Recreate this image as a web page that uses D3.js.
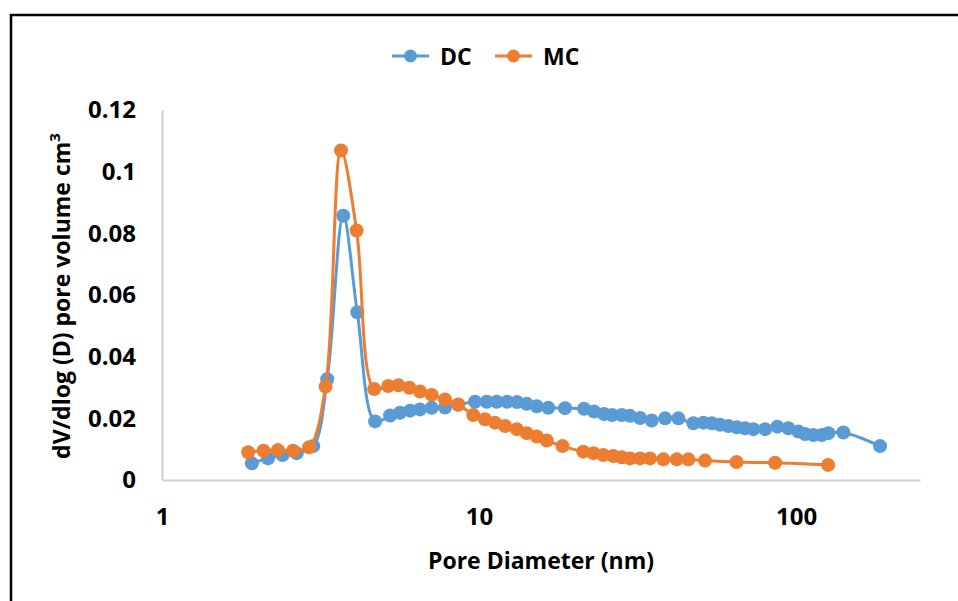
<!DOCTYPE html>
<html>
<head>
<meta charset="utf-8">
<script src="https://cdn.jsdelivr.net/npm/d3@7/dist/d3.min.js"></script>
<style>
  html, body { margin: 0; padding: 0; background: #fff; }
  svg { display: block; }
  text { font-family: "Open Sans", "Noto Sans", sans-serif; font-weight: 700; fill: #000; }
</style>
</head>
<body>
<svg id="chart" width="958" height="601"></svg>
<script>
// Pore size distribution (BJH) for two carbons
const dcDiameter = [1.92, 2.16, 2.40, 2.66, 3.00, 3.32, 3.73, 4.13, 4.70, 5.24, 5.63, 6.06, 6.51, 7.09, 7.81, 8.60,
  9.71, 10.58, 11.37, 12.26, 13.18, 14.14, 15.21, 16.54, 18.67, 21.44, 23.06, 24.80, 26.28, 28.19, 29.94, 32.20,
  35.06, 38.63, 42.54, 47.43, 51.00, 54.22, 57.58, 61.14, 65.01, 69.05, 73.33, 79.86, 87.30, 94.56, 101.7, 106.8,
  113.4, 120.5, 126.5, 141.0, 184.1];
const dcVolume = [0.0054, 0.0070, 0.0081, 0.0087, 0.0110, 0.0327, 0.0857, 0.0544, 0.0190, 0.0209, 0.0218, 0.0225,
  0.0229, 0.0234, 0.0235, 0.0244, 0.0254, 0.0254, 0.0254, 0.0254, 0.0253, 0.0247, 0.0239, 0.0234, 0.0233, 0.0231,
  0.0222, 0.0214, 0.0211, 0.0211, 0.0208, 0.0201, 0.0193, 0.0200, 0.0200, 0.0184, 0.0186, 0.0184, 0.0179, 0.0175,
  0.0171, 0.0168, 0.0165, 0.0165, 0.0173, 0.0168, 0.0157, 0.0149, 0.0146, 0.0146, 0.0152, 0.0154, 0.0110];

const mcDiameter = [1.87, 2.09, 2.32, 2.59, 2.91, 3.28, 3.67, 4.11, 4.67, 5.17, 5.57, 6.03, 6.51, 7.09, 7.81, 8.60,
  9.59, 10.44, 11.23, 12.08, 13.15, 14.14, 15.21, 16.35, 18.34, 21.33, 22.94, 24.66, 26.52, 28.19, 29.94, 32.20,
  34.63, 38.14, 42.04, 45.74, 51.63, 64.92, 85.87, 126.2];
const mcVolume = [0.0090, 0.0095, 0.0097, 0.0095, 0.0106, 0.0303, 0.1069, 0.0809, 0.0295, 0.0305, 0.0307, 0.0299,
  0.0287, 0.0276, 0.0261, 0.0245, 0.0211, 0.0197, 0.0186, 0.0175, 0.0165, 0.0152, 0.0141, 0.0128, 0.0110, 0.0092,
  0.0087, 0.0081, 0.0078, 0.0074, 0.0070, 0.0070, 0.0070, 0.0067, 0.0067, 0.0067, 0.0063, 0.0058, 0.0056, 0.0049];

const seriesNames = ["DC", "MC"];
const seriesColors = ["#5B9BD5", "#ED7D31"];
const xTicks = [1, 10, 100];
const yTicks = [0, 0.02, 0.04, 0.06, 0.08, 0.1, 0.12];
const xTitle = "Pore Diameter (nm)";

const svg = d3.select("#chart");

// outer frame
svg.append("rect")
  .attr("x", 11).attr("y", 15)
  .attr("width", 1000).attr("height", 1000)
  .attr("fill", "none").attr("stroke", "#000").attr("stroke-width", 2.5);

const plot = { left: 162, right: 920, top: 110, bottom: 480 };

const x = d3.scaleLog().domain([1, 246]).range([plot.left, plot.right]);
const y = d3.scaleLinear().domain([0, 0.12]).range([plot.bottom, plot.top]);

// axes
const xAxis = d3.axisBottom(x).tickValues(xTicks).tickFormat(d3.format("d")).tickSize(0).tickPadding(28);
const yAxis = d3.axisLeft(y).tickValues(yTicks).tickFormat(d => String(+d.toFixed(2))).tickSize(0).tickPadding(26);

const gx = svg.append("g").attr("transform", `translate(0,${plot.bottom})`).call(xAxis);
const gy = svg.append("g").attr("transform", `translate(${plot.left},0)`).call(yAxis);
[gx, gy].forEach(g => {
  g.select(".domain").attr("stroke", "#d0d0d0").attr("stroke-width", 2);
  g.selectAll("text").style("font-size", "24px").style("font-family", "'Open Sans', sans-serif").style("font-weight", 700).attr("fill", "#000");
});

// series
const series = [
  { name: seriesNames[0], color: seriesColors[0], pts: dcDiameter.map((d, i) => [d, dcVolume[i]]) },
  { name: seriesNames[1], color: seriesColors[1], pts: mcDiameter.map((d, i) => [d, mcVolume[i]]) }
];

const line = d3.line().x(d => x(d[0])).y(d => y(d[1])).curve(d3.curveCatmullRom.alpha(0.5));

series.forEach(s => {
  const g = svg.append("g");
  g.append("path").attr("d", line(s.pts)).attr("fill", "none")
    .attr("stroke", s.color).attr("stroke-width", 3).attr("stroke-linejoin", "round");
  g.selectAll("circle").data(s.pts).join("circle")
    .attr("cx", d => x(d[0])).attr("cy", d => y(d[1])).attr("r", 7).attr("fill", s.color);
});

// legend
const legendX = [392, 495];
series.forEach((s, i) => {
  const g = svg.append("g").attr("transform", `translate(${legendX[i]},56)`);
  g.append("line").attr("x1", 0).attr("x2", 37).attr("stroke", s.color).attr("stroke-width", 3);
  g.append("circle").attr("cx", 18.5).attr("r", 6.5).attr("fill", s.color);
  g.append("text").attr("x", 48).attr("y", 8.5).style("font-size", "23px").text(s.name);
});

// axis titles
svg.append("text").attr("x", 541).attr("y", 569).attr("text-anchor", "middle")
  .style("font-size", "23px").text(xTitle);

const yt = svg.append("text").attr("transform", "translate(70,296) rotate(-90)")
  .attr("text-anchor", "middle").style("font-size", "23px");
yt.append("tspan").text("dV/dlog (D) pore volume cm");
yt.append("tspan").attr("dy", -10).style("font-size", "15px").text("3");
</script>
</body>
</html>
